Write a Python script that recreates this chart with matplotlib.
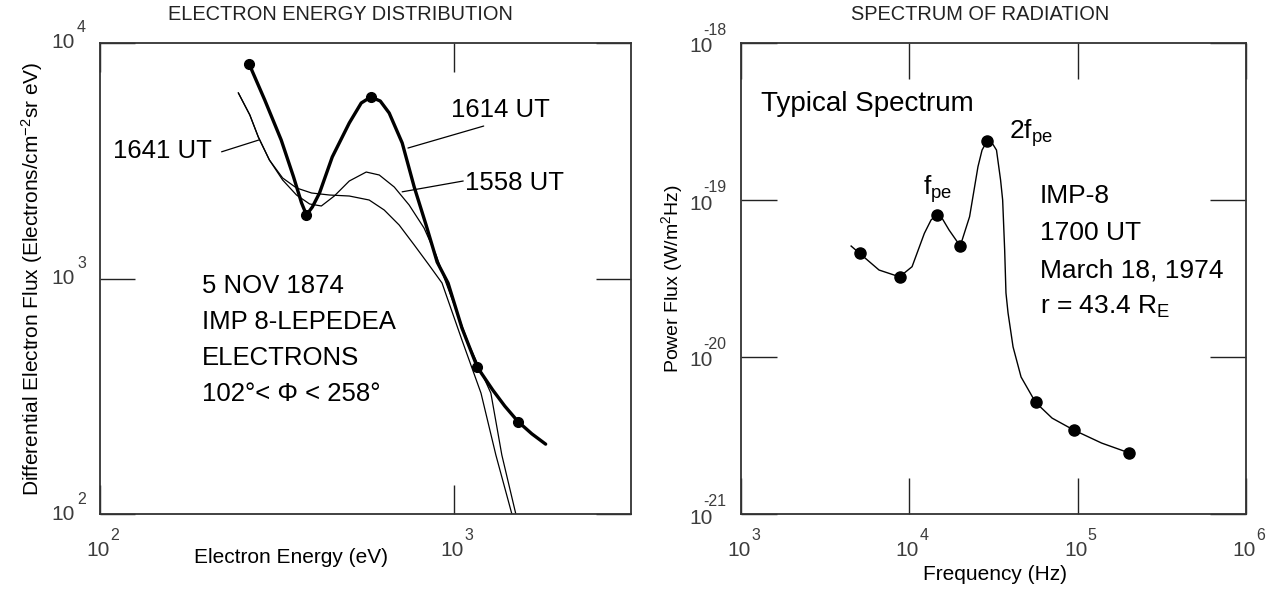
import numpy as np
import matplotlib
matplotlib.use('Agg')
import matplotlib.pyplot as plt
from matplotlib.transforms import blended_transform_factory, offset_copy

plt.rcParams['font.family'] = ['Liberation Sans', 'DejaVu Sans']
plt.rcParams['mathtext.default'] = 'regular'

# ---- left panel: electron energy distribution ----
energy_1614 = [264, 292, 325, 352, 371, 383, 398, 417, 453, 506, 547, 582, 619, 656,
               714, 772, 834, 896, 962, 1053, 1164, 1287, 1392, 1516, 1659, 1815]
flux_1614 = [8121, 5728, 3873, 2706, 2093, 1861, 2012, 2307, 3281, 4574, 5563, 5898, 5671, 5044,
             3762, 2446, 1687, 1175, 957, 616, 420, 336, 287, 247, 219, 198]
energy_1614_pts = [264, 383, 582, 1164, 1516]
flux_1614_pts = [8121, 1861, 5898, 420, 247]

energy_1641 = [246, 265, 280, 301, 328, 359, 396, 445, 506, 576, 635, 700, 772, 850, 925,
               1053, 1192, 1313, 1457]
flux_1641 = [6134, 4947, 3990, 3185, 2672, 2423, 2307, 2262, 2240, 2154, 1954, 1687, 1388,
             1141, 957, 548, 326, 178, 100]

energy_1558 = [246, 265, 280, 301, 328, 359, 391, 422, 459, 506, 565, 615, 678, 747, 823,
               890, 950, 1103, 1271, 1365, 1495]
flux_1558 = [6134, 4947, 3990, 3185, 2620, 2262, 2072, 2032, 2240, 2594, 2832, 2751, 2446,
             2051, 1638, 1258, 957, 522, 326, 178, 100]

# ---- right panel: spectrum of radiation ----
freq = [4510, 5070, 6610, 8750, 10380, 12280, 13460, 14550, 15630, 17220, 20060, 22800, 25570,
        27040, 29060, 31000, 32940, 34840, 35840, 36840, 37500, 38580, 41320, 46100, 56230,
        70500, 94600, 138800, 202300]
power = [5.09e-20, 4.57e-20, 3.58e-20, 3.24e-20, 3.76e-20, 6.13e-20, 7.46e-20, 8.02e-20,
         7.67e-20, 6.44e-20, 5.09e-20, 7.83e-20, 1.63e-19, 2.08e-19, 2.39e-19, 2.31e-19,
         2.08e-19, 1.34e-19, 1.0e-19, 4.81e-20, 2.56e-20, 1.91e-20, 1.16e-20, 7.46e-21,
         5.14e-21, 4.08e-21, 3.43e-21, 2.83e-21, 2.45e-21]
freq_pts = [5070, 8750, 14550, 20060, 29060, 56230, 94600, 202300]
power_pts = [4.57e-20, 3.24e-20, 8.02e-20, 5.09e-20, 2.39e-19, 5.14e-21, 3.43e-21, 2.45e-21]

left_xticks = [1e2, 1e3]
left_yticks = [1e2, 1e3, 1e4]
right_xticks = [1e3, 1e4, 1e5, 1e6]
right_yticks = [1e-21, 1e-20, 1e-19, 1e-18]

W, H = 1286, 593
TICK_COLOR = '#3c3c3c'


def style_axes(ax, xticks, yticks, xlen, ylen):
    ax.set_xscale('log')
    ax.set_yscale('log')
    ax.set_xticks(xticks)
    ax.set_yticks(yticks)
    ax.minorticks_off()
    ax.tick_params(axis='x', direction='in', top=True, bottom=True, length=xlen,
                   width=1.0, color='#222222', labelbottom=False)
    ax.tick_params(axis='y', direction='in', left=True, right=True, length=ylen,
                   width=1.0, color='#222222', labelleft=False)
    for s in ax.spines.values():
        s.set_linewidth(1.3)
        s.set_color('#333333')


# "10" plus a raised exponent, placed like the hand-lettered labels
def power_labels_x(ax, ticks, dy10, dysup):
    tr = blended_transform_factory(ax.transData, ax.transAxes)
    for v in ticks:
        e = int(round(np.log10(v)))
        ax.text(v, 0, '10', transform=offset_copy(tr, fig=fig, x=-2, y=dy10, units='dots'),
                ha='center', va='center', fontsize=15, color=TICK_COLOR, clip_on=False)
        ax.text(v, 0, str(e), transform=offset_copy(tr, fig=fig, x=10, y=dysup, units='dots'),
                ha='left', va='center', fontsize=11.5, color=TICK_COLOR, clip_on=False)


def power_labels_y(ax, ticks, dx10, dy10, dxsup, dysup):
    tr = blended_transform_factory(ax.transAxes, ax.transData)
    for v in ticks:
        e = int(round(np.log10(v)))
        ax.text(0, v, '10', transform=offset_copy(tr, fig=fig, x=dx10, y=dy10, units='dots'),
                ha='right', va='center', fontsize=15, color=TICK_COLOR, clip_on=False)
        ax.text(0, v, str(e), transform=offset_copy(tr, fig=fig, x=dxsup, y=dysup, units='dots'),
                ha='left', va='center', fontsize=11.5, color=TICK_COLOR, clip_on=False)


fig = plt.figure(figsize=(W / 100, H / 100), dpi=100)
ax1 = fig.add_axes([100 / W, 1 - 514 / H, 531 / W, 471 / H])
ax2 = fig.add_axes([741 / W, 1 - 514 / H, 505 / W, 471 / H])

# left panel
ax1.plot(energy_1641, flux_1641, color='black', lw=0.9, solid_joinstyle='round')
ax1.plot(energy_1558, flux_1558, color='black', lw=0.9, solid_joinstyle='round')
ax1.plot(energy_1614, flux_1614, color='black', lw=2.4, solid_capstyle='round',
         solid_joinstyle='round')
ax1.plot(energy_1614_pts, flux_1614_pts, 'o', color='black', ms=7)
style_axes(ax1, left_xticks, left_yticks, 21, 25)
ax1.set_xlim(1e2, 10 ** 3.5)
ax1.set_ylim(1e2, 1e4)
power_labels_x(ax1, left_xticks, -37, -21)
power_labels_y(ax1, left_yticks, -25, 0, -23, 15)

ax1.set_xlabel('Electron Energy (eV)', fontsize=15)
ax1.xaxis.set_label_coords(0.36, -0.073)
ax1.set_ylabel('Differential Electron Flux (Electrons/cm$^{-2}$sr eV)', fontsize=15)
ax1.yaxis.set_label_coords(-0.104, 0.5)

lbl = dict(fontsize=18.5, color='black', transform=ax1.transAxes, va='baseline')
ax1.text(0.0245, 0.756, '1641 UT', ha='left', **lbl)
ax1.text(0.661, 0.843, '1614 UT', ha='left', **lbl)
ax1.text(0.687, 0.688, '1558 UT', ha='left', **lbl)
line = dict(arrowstyle='-', color='black', lw=0.9, shrinkA=0, shrinkB=0)
ax1.annotate('', xy=(0.299, 0.794), xytext=(0.229, 0.769), xycoords='axes fraction',
             arrowprops=line)
ax1.annotate('', xy=(0.580, 0.777), xytext=(0.7226, 0.8237), xycoords='axes fraction',
             arrowprops=line)
ax1.annotate('', xy=(0.569, 0.684), xytext=(0.684, 0.707), xycoords='axes fraction',
             arrowprops=line)

info_left = ['5 NOV 1874', 'IMP 8-LEPEDEA', 'ELECTRONS', '102°< Φ < 258°']
for i, t in enumerate(info_left):
    ax1.text(0.192, 0.469 - i * 0.0765, t, ha='left', **lbl)

# right panel
ax2.plot(freq, power, color='black', lw=1.0, solid_joinstyle='round')
ax2.plot(freq_pts, power_pts, 'o', color='black', ms=8)
style_axes(ax2, right_xticks, right_yticks, 26, 26)
ax2.set_xlim(1e3, 1e6)
ax2.set_ylim(1e-21, 1e-18)
power_labels_x(ax2, right_xticks, -37, -21)
power_labels_y(ax2, right_yticks, -28, -4, -38, 12.5)

ax2.set_xlabel('Frequency (Hz)', fontsize=15)
ax2.xaxis.set_label_coords(0.503, -0.108)
ax2.set_ylabel('Power Flux (W/m$^{2}$Hz)', fontsize=14)
ax2.yaxis.set_label_coords(-0.111, 0.5)

lbl2 = dict(color='black', transform=ax2.transAxes, va='baseline', ha='left')
ax2.text(0.0396, 0.8556, 'Typical Spectrum', fontsize=20, **lbl2)
ax2.text(0.360, 0.677, '$f_{pe}$', fontsize=19, **lbl2)
ax2.text(0.531, 0.796, '$2f_{pe}$', fontsize=19, **lbl2)
info_right = ['IMP-8', '1700 UT', 'March 18, 1974', r'r = 43.4 R$_{E}$']
for i, t in enumerate(info_right):
    ax2.text(0.592, 0.660 - i * 0.0786, t, fontsize=19, **lbl2)

fig.text(340 / W, 1 - 14 / H, 'ELECTRON ENERGY DISTRIBUTION', ha='center', va='center',
         fontsize=14.4, color='#222222')
fig.text(980 / W, 1 - 14 / H, 'SPECTRUM OF RADIATION', ha='center', va='center',
         fontsize=14.4, color='#222222')

fig.savefig('out.png', dpi=100, facecolor='white')
